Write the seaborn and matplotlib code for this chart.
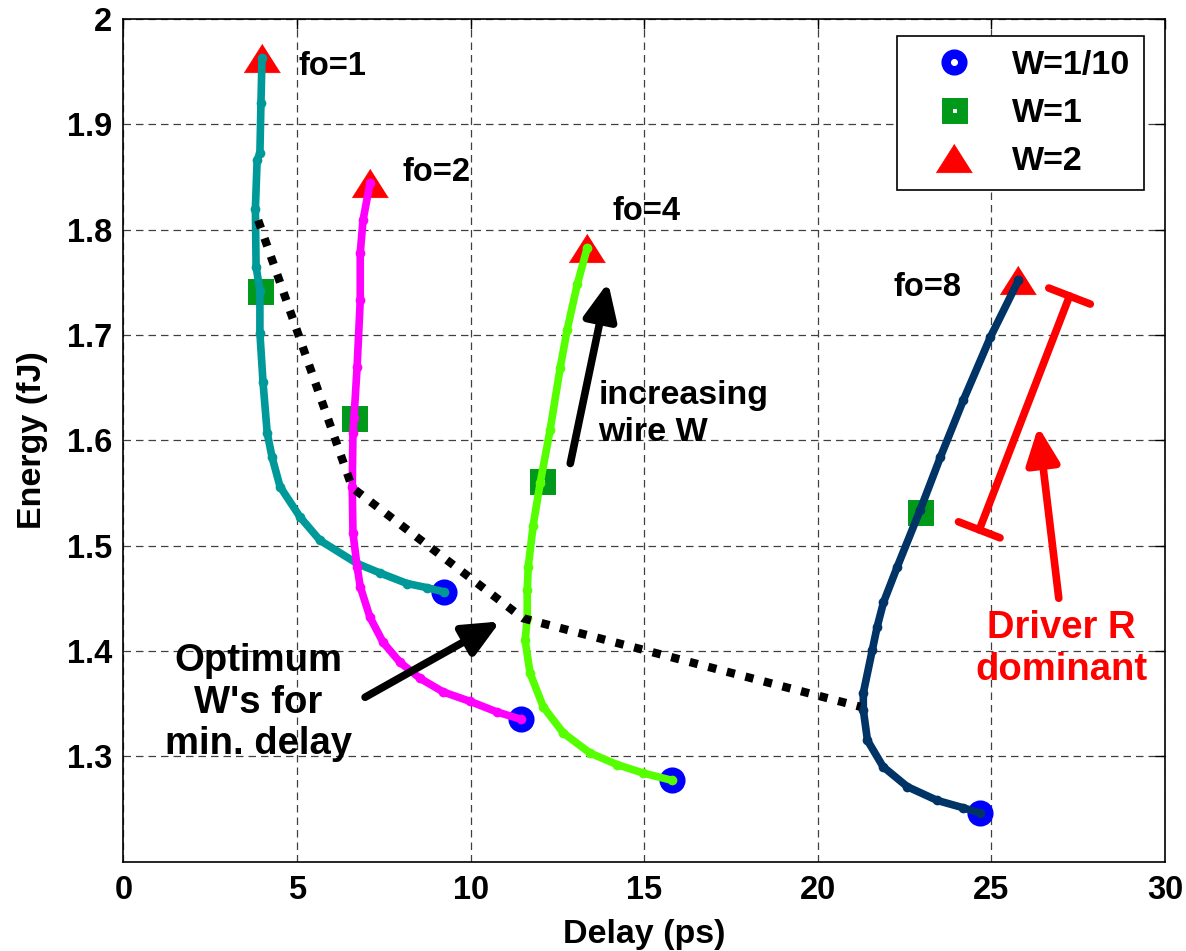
import matplotlib
matplotlib.use("Agg")
import matplotlib.pyplot as plt
import numpy as np
import pandas as pd
import seaborn as sns

# curves of energy vs delay for each fanout, from W=1/10 (bottom) to W=2 (top)
fo1_delay = [9.24, 8.75, 8.17, 7.39, 6.73, 5.66, 5.09, 4.51, 4.28, 4.14, 4.02, 3.93, 3.93, 3.82, 3.80, 3.85, 3.93, 3.96, 3.99]
fo1_energy = [1.456, 1.460, 1.464, 1.474, 1.483, 1.505, 1.527, 1.556, 1.584, 1.607, 1.655, 1.702, 1.742, 1.765, 1.820, 1.866, 1.873, 1.920, 1.963]

fo2_delay = [11.46, 10.76, 9.99, 9.21, 8.54, 7.97, 7.48, 7.10, 6.82, 6.73, 6.61, 6.59, 6.61, 6.64, 6.73, 6.82, 6.82, 6.90, 7.10]
fo2_energy = [1.335, 1.342, 1.352, 1.361, 1.374, 1.389, 1.408, 1.432, 1.461, 1.480, 1.512, 1.556, 1.607, 1.621, 1.670, 1.733, 1.778, 1.809, 1.844]

fo4_delay = [15.81, 14.97, 14.22, 13.44, 12.67, 12.09, 11.71, 11.57, 11.63, 11.63, 11.66, 11.80, 12.00, 12.29, 12.58, 12.78, 13.07, 13.36]
fo4_energy = [1.277, 1.284, 1.292, 1.303, 1.322, 1.347, 1.379, 1.410, 1.431, 1.458, 1.480, 1.519, 1.559, 1.610, 1.669, 1.705, 1.748, 1.783]

fo8_delay = [24.67, 24.19, 23.44, 22.58, 21.88, 21.43, 21.31, 21.31, 21.57, 21.71, 21.89, 22.29, 22.95, 23.53, 24.19, 24.97, 25.78]
fo8_energy = [1.246, 1.251, 1.258, 1.271, 1.290, 1.315, 1.344, 1.360, 1.401, 1.423, 1.446, 1.480, 1.534, 1.584, 1.638, 1.698, 1.752]

fanouts = ["fo=1", "fo=2", "fo=4", "fo=8"]
curve_colors = ["#009999", "#ff00ff", "#55ff00", "#003366"]

# wire width markers
w01_delay = [9.24, 11.46, 15.81, 24.67]
w01_energy = [1.456, 1.335, 1.277, 1.246]
w1_delay = [3.92, 6.64, 12.06, 22.93]
w1_energy = [1.742, 1.621, 1.561, 1.532]
w2_delay = [3.99, 7.10, 13.36, 25.78]
w2_energy = [1.963, 1.844, 1.783, 1.752]

# optimum W for minimum delay
opt_delay = [3.88, 6.59, 11.51, 21.22]
opt_energy = [1.809, 1.555, 1.431, 1.347]

sns.set_style("white")
plt.rcParams["font.family"] = ["Liberation Sans", "DejaVu Sans"]
plt.rcParams["font.weight"] = "bold"
plt.rcParams["text.color"] = "black"
plt.rcParams["axes.labelcolor"] = "black"
plt.rcParams["xtick.color"] = "black"
plt.rcParams["ytick.color"] = "black"

curves = pd.concat([
    pd.DataFrame({"delay": d, "energy": e, "fo": f})
    for d, e, f in zip([fo1_delay, fo2_delay, fo4_delay, fo8_delay],
                       [fo1_energy, fo2_energy, fo4_energy, fo8_energy], fanouts)
])

fig = plt.figure(figsize=(11.86, 9.51), dpi=100)
ax = fig.add_axes([0.1041, 0.0941, 0.8782, 0.8858])

# markers below the curves
tri = [(0, 1), (-1.27, -1), (1.27, -1)]
ax.plot(w01_delay, w01_energy, ls="none", marker="o", ms=12, mew=6.8, mfc="none", mec="#0000ff", zorder=2)
ax.plot(w1_delay, w1_energy, ls="none", marker="s", ms=10.8, mew=7.9, mfc="none", mec="#00991a", zorder=2)
ax.plot(w2_delay, w2_energy, ls="none", marker=tri, ms=26, mew=0.5, mfc="#ff0000", mec="#ff0000", zorder=2)

sns.lineplot(data=curves, x="delay", y="energy", hue="fo", palette=dict(zip(fanouts, curve_colors)),
             sort=False, estimator=None, linewidth=5.5, marker="o", markersize=7, markeredgewidth=0,
             legend=False, ax=ax, zorder=3)

ax.plot(opt_delay, opt_energy, color="black", lw=6, ls=(0, (1, 1.3)), dash_capstyle="butt", zorder=4)

ax.set_xlim(0, 30)
ax.set_ylim(1.2, 2.0)
ax.set_xticks(np.arange(0, 31, 5))
yt = [1.3, 1.4, 1.5, 1.6, 1.7, 1.8, 1.9, 2.0]
ax.set_yticks(yt)
ax.set_yticklabels(["1.3", "1.4", "1.5", "1.6", "1.7", "1.8", "1.9", "2"])
ax.tick_params(direction="in", length=7, width=1, top=True, right=True, labelsize=23.5, colors="black")
ax.tick_params(axis="x", pad=10)
ax.tick_params(axis="y", pad=8)
ax.grid(True, color="0.25", linestyle=(0, (6, 4)), linewidth=0.9)
for s in ax.spines.values():
    s.set_linewidth(1.2)
    s.set_color("black")

ax.set_xlabel("Delay (ps)", fontsize=24.5, fontweight="bold", labelpad=9)
ax.set_ylabel("Energy (fJ)", fontsize=24.5, fontweight="bold", labelpad=14)

# labels of each curve
ax.text(5.03, 1.955, "fo=1", fontsize=23.5, fontweight="bold", va="center")
ax.text(8.05, 1.854, "fo=2", fontsize=23.5, fontweight="bold", va="center")
ax.text(14.1, 1.817, "fo=4", fontsize=23.5, fontweight="bold", va="center")
ax.text(22.17, 1.745, "fo=8", fontsize=23.5, fontweight="bold", va="center")

ax.text(13.68, 1.625, "increasing\nwire W", fontsize=24.5, fontweight="bold", va="center", ha="left", linespacing=1.25)
ax.text(3.88, 1.351, "Optimum\nW's for\nmin. delay", fontsize=27.5, fontweight="bold", va="center", ha="center", linespacing=1.2)
ax.text(27.02, 1.402, "Driver R\ndominant", fontsize=27.5, fontweight="bold", va="center", ha="center",
        linespacing=1.2, color="#ff0000")

arrow = "-|>,head_length=1.1,head_width=0.5"
ax.annotate("", xy=(13.96, 1.750), xytext=(12.87, 1.578),
            arrowprops=dict(arrowstyle=arrow, lw=5.5, color="black", mutation_scale=20, shrinkA=0, shrinkB=0), zorder=5)
ax.annotate("", xy=(10.85, 1.428), xytext=(6.96, 1.356),
            arrowprops=dict(arrowstyle=arrow, lw=5.5, color="black", mutation_scale=20, shrinkA=0, shrinkB=0), zorder=5)
ax.annotate("", xy=(26.35, 1.613), xytext=(26.94, 1.450),
            arrowprops=dict(arrowstyle=arrow, lw=5.5, color="#ff0000", mutation_scale=20, shrinkA=0, shrinkB=0), zorder=5)
ax.annotate("", xy=(24.65, 1.515), xytext=(27.25, 1.737),
            arrowprops=dict(arrowstyle="|-|,widthA=1.0,widthB=1.0", lw=5.5, color="#ff0000", mutation_scale=16,
                            shrinkA=0, shrinkB=0), zorder=5)

handles = [
    plt.Line2D([], [], ls="none", marker="o", ms=12, mew=6.8, mfc="none", mec="#0000ff"),
    plt.Line2D([], [], ls="none", marker="s", ms=10.8, mew=7.9, mfc="none", mec="#00991a"),
    plt.Line2D([], [], ls="none", marker=tri, ms=26, mew=0.5, mfc="#ff0000", mec="#ff0000"),
]
leg = ax.legend(handles, ["W=1/10", "W=1", "W=2"], loc="upper right", bbox_to_anchor=(0.980, 0.980),
                borderaxespad=0, prop={"weight": "bold", "size": 24.5}, frameon=True, fancybox=False,
                edgecolor="black", handlelength=2.6, handletextpad=0.4, labelspacing=0.5, borderpad=0.4)
leg.get_frame().set_linewidth(1.2)
leg.get_frame().set_alpha(1)

fig.savefig("out.png", dpi=100)
